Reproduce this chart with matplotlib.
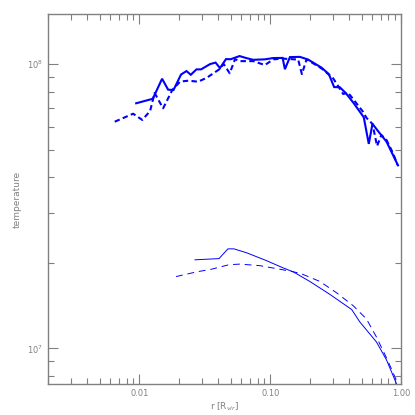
import numpy as np
import matplotlib
matplotlib.use("Agg")
import matplotlib.pyplot as plt
from matplotlib.ticker import FixedLocator, FuncFormatter, NullFormatter

# thick lines (upper)
r_a = [0.00944, 0.01265, 0.0149, 0.01656, 0.0182, 0.0208, 0.0229, 0.0247, 0.0273,
       0.0296, 0.0347, 0.0382, 0.0413, 0.0459, 0.0499, 0.0583, 0.065, 0.0741,
       0.0911, 0.1054, 0.1244, 0.1295, 0.1414, 0.1686, 0.195, 0.247, 0.2806,
       0.308, 0.340, 0.378, 0.4355, 0.519, 0.567, 0.605, 0.688, 0.774, 0.948]
T_a = [7.28e7, 7.55e7, 8.88e7, 8.13e7, 8.1e7, 9.19e7, 9.45e7, 9.17e7, 9.58e7,
       9.58e7, 1.0e8, 1.012e8, 9.68e7, 1.041e8, 1.04e8, 1.067e8, 1.051e8, 1.035e8,
       1.039e8, 1.05e8, 1.051e8, 9.59e7, 1.058e8, 1.06e8, 1.037e8, 9.71e7, 9.22e7,
       8.3e7, 8.29e7, 7.91e7, 7.28e7, 6.5e7, 5.24e7, 6.16e7, 5.71e7, 5.34e7, 4.405e7]

r_b = [0.00647, 0.00895, 0.01052, 0.01207, 0.01306, 0.01517, 0.0179, 0.0205, 0.0237,
       0.0281, 0.0327, 0.0406, 0.0441, 0.049, 0.0538, 0.0587, 0.0741, 0.0911,
       0.1054, 0.1256, 0.1636, 0.1746, 0.1896, 0.248, 0.3026, 0.323, 0.361, 0.394,
       0.4355, 0.513, 0.544, 0.605, 0.656, 0.708, 0.774, 0.869, 0.94]
T_b = [6.27e7, 6.69e7, 6.36e7, 6.84e7, 7.91e7, 6.99e7, 8.13e7, 8.68e7, 8.74e7,
       8.67e7, 8.95e7, 9.57e7, 1.0e8, 9.28e7, 1.04e8, 1.024e8, 1.024e8, 9.92e7,
       1.039e8, 1.045e8, 1.037e8, 9.22e7, 1.039e8, 9.64e7, 8.91e7, 8.51e7, 7.85e7, 7.93e7,
       7.48e7, 6.79e7, 6.47e7, 6.16e7, 5.15e7, 5.63e7, 5.41e7, 4.86e7, 4.42e7]

# thin lines (lower)
r_c = [0.0266, 0.0406, 0.0475, 0.0528, 0.066, 0.0927, 0.1256, 0.150, 0.201,
       0.2855, 0.420, 0.484, 0.649, 0.774, 0.922, 0.95]
T_c = [2.05e7, 2.07e7, 2.24e7, 2.24e7, 2.17e7, 2.04e7, 1.92e7, 1.86e7, 1.72e7,
       1.55e7, 1.37e7, 1.24e7, 1.054e7, 9.12e6, 7.53e6, 7.2e6]

r_d = [0.01906, 0.0275, 0.0356, 0.0484, 0.0587, 0.0834, 0.1256, 0.1686, 0.240,
       0.321, 0.430, 0.544, 0.649, 0.791, 0.895, 0.948, 0.97]
T_d = [1.79e7, 1.86e7, 1.90e7, 1.97e7, 1.98e7, 1.955e7, 1.89e7, 1.84e7, 1.72e7,
       1.57e7, 1.415e7, 1.27e7, 1.097e7, 9.08e6, 7.97e6, 7.53e6, 7.2e6]

grey = '#808080'
blue = '#0000ff'

fig = plt.figure(figsize=(4.15, 4.15), dpi=100)
ax = fig.add_axes([0.1157, 0.0747, 0.8506, 0.8916])

ax.plot(r_a, T_a, color=blue, lw=1.5, solid_joinstyle='miter')
ax.plot(r_b, T_b, color=blue, lw=1.5, linestyle=(0, (2.6, 1.6)))
ax.plot(r_c, T_c, color=blue, lw=0.7)
ax.plot(r_d, T_d, color=blue, lw=0.7, linestyle=(0, (7, 5)))

ax.set_xscale('log')
ax.set_yscale('log')
ax.set_xlim(0.002, 1.0)
ax.set_ylim(7.5e6, 1.5e8)

ax.xaxis.set_major_locator(FixedLocator([0.01, 0.1, 1.0]))
ax.xaxis.set_major_formatter(FuncFormatter(lambda v, p: '%.2f' % v))
ax.xaxis.set_minor_locator(FixedLocator([k * 10.0**e for e in (-3, -2, -1) for k in range(2, 10)]))
ax.xaxis.set_minor_formatter(NullFormatter())
ax.yaxis.set_major_locator(FixedLocator([1e7, 1e8]))
ax.yaxis.set_major_formatter(FuncFormatter(lambda v, p: r'$10^{%d}$' % round(np.log10(v))))
ax.yaxis.set_minor_locator(FixedLocator([k * 10.0**e for e in (6, 7) for k in range(2, 10)]))
ax.yaxis.set_minor_formatter(NullFormatter())

ax.tick_params(which='both', direction='in', top=True, right=True, color=grey,
               labelcolor=grey, labelsize=6, width=0.8)
ax.tick_params(which='major', length=7)
ax.tick_params(which='minor', length=4)
for s in ax.spines.values():
    s.set_color(grey)
    s.set_linewidth(1.0)

ax.set_xlabel(r'r [R$_{vir}$]', color=grey, fontsize=6.5, labelpad=2)
ax.set_ylabel('temperature', color=grey, fontsize=6.5, labelpad=-2)
ax.yaxis.set_label_coords(-0.075, 0.5)

fig.savefig('out.png', dpi=100)
